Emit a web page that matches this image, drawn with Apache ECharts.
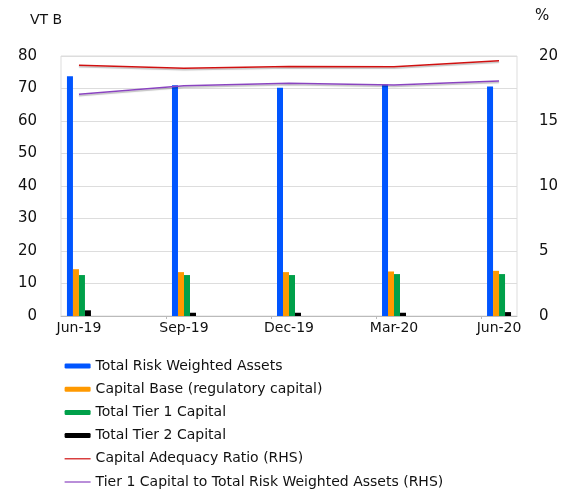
<!DOCTYPE html>
<html>
<head>
<meta charset="utf-8">
<script src="https://cdn.jsdelivr.net/npm/echarts@6/dist/echarts.min.js"></script>
<style>
  html, body { margin: 0; padding: 0; background: #fff; }
  #chart { width: 565px; height: 490px; }
</style>
</head>
<body>
<div id="chart"></div>
<script>
const categories = ['Jun-19', 'Sep-19', 'Dec-19', 'Mar-20', 'Jun-20'];
const leftTicks = [0, 10, 20, 30, 40, 50, 60, 70, 80];
const rightTicks = [0, 5, 10, 15, 20];

const riskWeightedAssets = [73.8, 71.0, 70.2, 71.2, 70.6];
const capitalBase = [14.4, 13.5, 13.5, 13.7, 13.9];
const tier1Capital = [12.6, 12.6, 12.6, 12.9, 12.9];
const tier2Capital = [1.75, 1.0, 1.0, 1.0, 1.2];
const capitalAdequacy = [19.28, 19.05, 19.2, 19.18, 19.64];
const tier1ToRwa = [17.05, 17.72, 17.9, 17.77, 18.08];

const font = 'DejaVu Sans';
const pairs = arr => arr.map((v, i) => [i, v]);

const barSeries = (name, data, color) => ({
  name,
  type: 'bar',
  data: pairs(data),
  barWidth: 6,
  barGap: '0%',
  itemStyle: { color },
});

const lineSeries = (name, data, color) => ({
  name,
  type: 'line',
  yAxisIndex: 1,
  data: pairs(data),
  symbol: 'none',
  lineStyle: {
    color,
    width: 1.5,
    shadowColor: 'rgba(0,0,0,0.25)',
    shadowBlur: 1,
    shadowOffsetY: 1.5,
  },
  itemStyle: { color },
});

// legend entry for a line series: plain thin line, no marker
const lineLegend = (name, color) => ({
  name,
  itemStyle: { color: 'rgba(0,0,0,0)', borderWidth: 0 },
  lineStyle: { color, width: 1.2, shadowBlur: 0, shadowOffsetY: 0 },
});

const chart = echarts.init(document.getElementById('chart'));
chart.setOption({
  animation: false,
  textStyle: { fontFamily: font },
  title: {
    text: 'VT B',
    left: 30,
    top: 13,
    padding: 0,
    textStyle: { fontFamily: font, fontSize: 14, fontWeight: 'normal', color: '#111' },
  },
  grid: {
    left: 61,
    right: 48,
    top: 56,
    bottom: 174,
    show: true,
    borderColor: '#dddddd',
    borderWidth: 1,
  },
  legend: {
    orient: 'vertical',
    left: 64,
    top: 359,
    bottom: 0,
    padding: 0,
    itemWidth: 26,
    itemHeight: 5,
    itemGap: 9.2,
    textStyle: { fontFamily: font, fontSize: 14, color: '#111' },
    data: [
      'Total Risk Weighted Assets',
      'Capital Base (regulatory capital)',
      'Total Tier 1 Capital',
      'Total Tier 2 Capital',
      lineLegend('Capital Adequacy Ratio (RHS)', '#d01010'),
      lineLegend('Tier 1 Capital to Total Risk Weighted Assets (RHS)', '#8a44c0'),
    ],
  },
  xAxis: {
    type: 'value',
    min: -0.171,
    max: 4.171,
    splitLine: { show: false },
    axisLine: { lineStyle: { color: '#bbbbbb' } },
    axisTick: {
      show: true,
      customValues: [0.83, 1.83, 2.83, 3.83],
      length: 3,
      lineStyle: { color: '#bbbbbb' },
    },
    axisLabel: {
      customValues: [0, 1, 2, 3, 4],
      formatter: v => categories[Math.round(v)],
      fontSize: 14,
      color: '#111',
      margin: 5,
    },
  },
  yAxis: [
    {
      type: 'value',
      min: 0,
      max: 80,
      interval: 10,
      axisLine: { show: false },
      axisTick: { show: false },
      axisLabel: {
        customValues: leftTicks,
        fontSize: 15,
        color: '#111',
        margin: 24,
      },
      splitLine: { lineStyle: { color: '#dddddd' } },
    },
    {
      type: 'value',
      min: 0,
      max: 20,
      interval: 5,
      name: '%',
      nameGap: 32,
      nameTextStyle: { fontSize: 15, color: '#111', align: 'left', padding: [0, 0, 0, 18] },
      axisLine: { show: false },
      axisTick: { show: false },
      axisLabel: {
        customValues: rightTicks,
        fontSize: 15,
        color: '#111',
        margin: 22,
      },
      splitLine: { show: false },
    },
  ],
  series: [
    barSeries('Total Risk Weighted Assets', riskWeightedAssets, '#0055ff'),
    barSeries('Capital Base (regulatory capital)', capitalBase, '#ff9900'),
    barSeries('Total Tier 1 Capital', tier1Capital, '#00a04a'),
    barSeries('Total Tier 2 Capital', tier2Capital, '#000000'),
    lineSeries('Capital Adequacy Ratio (RHS)', capitalAdequacy, '#d01010'),
    lineSeries('Tier 1 Capital to Total Risk Weighted Assets (RHS)', tier1ToRwa, '#8a44c0'),
  ],
});
</script>
</body>
</html>
